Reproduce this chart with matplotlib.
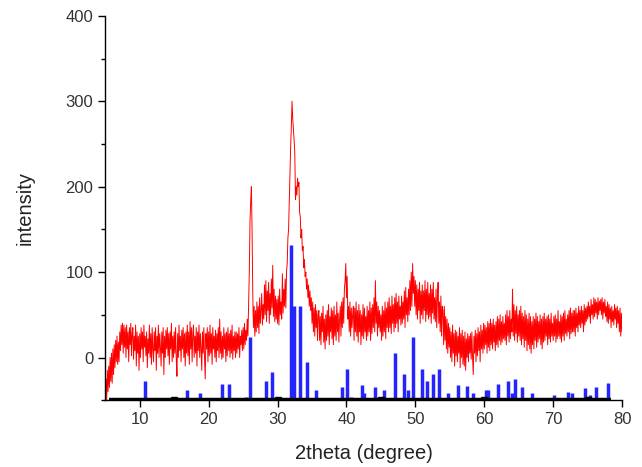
import numpy as np
import matplotlib
matplotlib.use("Agg")
import matplotlib.pyplot as plt

plt.rcParams['font.family'] = ['Liberation Sans', 'DejaVu Sans']

# measured pattern: 2theta from 5.0 to 80.0, step 0.1
theta_start = 5.0
theta_step = 0.1
intensity = [
    -48, -25, -50, -15, -40, -10, -35, 0, -28, 5,
    -30, 10, -20, 15, -12, 20, -5, 25, -8, 18,
    -5, 30, 8, 38, 15, 40, 5, 38, 12, 35,
    0, 38, 10, 30, -5, 35, 15, 40, 2, 28,
    35, -2, 25, 8, 38, -10, 30, 5, 25, -15,
    28, 0, 35, 10, 30, -5, 38, 12, 25, 2,
    30, -12, 22, 5, 38, 0, 28, -8, 35, 10,
    -5, 30, 8, 35, -15, 25, 5, 38, 0, 28,
    12, -10, 30, 5, 35, -20, 25, 0, 32, 10,
    35, 2, 28, -8, 30, 10, 40, -5, 25, 0,
    30, 5, 35, -2, -22, 28, 0, 38, 8, 25,
    -5, 32, 10, 35, 0, 28, -10, 30, 5, 38,
    2, 30, -8, 42, 10, 35, -5, 28, 38, 0,
    25, 5, 35, -10, 30, 8, 38, 0, 28, 10,
    -15, 30, 5, 35, 0, -25, 28, 10, 35, -5,
    30, 2, 38, 5, 28, -8, 35, 10, 25, 0,
    32, -5, 28, 8, 35, 0, 45, 5, 30, -2,
    25, 0, 35, 10, 28, -5, 30, 2, 35, 8,
    28, 0, 32, 5, 38, -2, 25, 8, 30, 0,
    30, 5, 28, 10, 35, 0, 25, 15, 32, 8,
    35, 10, 40, 15, 32, 20, 45, 25, 60, 100,
    160, 182, 200, 150, 75, 35, 60, 25, 55, 30,
    65, 35, 60, 28, 70, 40, 55, 75, 38, 62,
    45, 85, 50, 90, 42, 78, 55, 88, 40, 75,
    50, 92, 58, 108, 48, 80, 42, 72, 45, 68,
    40, 72, 38, 80, 50, 65, 45, 98, 52, 80,
    60, 92, 58, 100, 110, 140, 150, 184, 215, 247,
    270, 300, 280, 268, 255, 240, 185, 200, 190, 210,
    200, 205, 170, 165, 140, 150, 125, 130, 105, 115,
    95, 100, 80, 92, 70, 85, 60, 78, 55, 70,
    40, 65, 30, 58, 25, 62, 35, 55, 20, 50,
    55, 20, 48, 15, 52, 30, 60, 18, 45, 10,
    50, 20, 55, 25, 62, 15, 48, 30, 58, 22,
    55, 15, 60, 25, 50, 20, 65, 30, 52, 18,
    45, 60, 25, 65, 35, 70, 40, 80, 90, 110,
    70, 95, 45, 60, 30, 65, 25, 58, 35, 50,
    60, 20, 58, 30, 65, 25, 55, 18, 62, 30,
    55, 15, 50, 25, 62, 22, 58, 30, 48, 20,
    60, 25, 55, 30, 65, 20, 58, 28, 62, 35,
    70, 30, 90, 40, 65, 25, 60, 35, 55, 30,
    50, 20, 60, 25, 55, 30, 65, 22, 58, 35,
    65, 30, 70, 35, 60, 28, 72, 40, 62, 30,
    70, 35, 75, 40, 65, 30, 72, 45, 60, 38,
    72, 40, 65, 45, 78, 35, 82, 50, 70, 42,
    80, 50, 90, 55, 100, 60, 110, 75, 95, 60,
    90, 50, 85, 45, 80, 55, 88, 40, 78, 50,
    85, 45, 78, 55, 90, 42, 80, 50, 88, 45,
    75, 48, 85, 40, 80, 52, 88, 45, 70, 42,
    80, 35, 70, 88, 40, 65, 30, 72, 25, 60,
    55, 15, 60, 20, 48, 10, 45, 5, 40, 12,
    35, 0, 30, -5, 38, 5, 28, -10, 32, 2,
    30, -5, 25, 5, 35, -12, 28, 0, 32, -8,
    25, -10, 30, -15, 22, 0, 28, -5, 25, 5,
    28, -2, 30, 0, -20, 25, 5, 32, -5, 28,
    2, 35, 8, 30, -5, 38, 10, 32, 5, 40,
    10, 38, 15, 35, 5, 42, 12, 40, 8, 45,
    15, 40, 10, 45, 18, 38, 8, 42, 15, 48,
    12, 45, 20, 50, 15, 42, 18, 48, 22, 40,
    20, 50, 15, 55, 25, 48, 18, 55, 22, 45,
    30, 80, 25, 62, 20, 55, 28, 60, 18, 50,
    25, 55, 20, 60, 15, 52, 22, 48, 12, 55,
    20, 50, 8, 45, 15, 52, 10, 48, 5, 42,
    15, 48, 10, 45, 20, 52, 12, 48, 18, 42,
    22, 50, 15, 45, 10, 48, 18, 52, 20, 45,
    25, 48, 15, 50, 22, 45, 18, 52, 25, 40,
    20, 48, 25, 50, 18, 45, 22, 55, 25, 42,
    22, 50, 18, 48, 25, 52, 20, 55, 28, 45,
    25, 50, 30, 55, 22, 58, 28, 52, 30, 55,
    30, 55, 25, 58, 35, 52, 30, 60, 38, 55,
    35, 60, 40, 55, 30, 62, 38, 58, 42, 60,
    45, 65, 48, 60, 40, 68, 50, 62, 45, 70,
    48, 68, 52, 65, 45, 70, 50, 66, 55, 68,
    50, 70, 45, 65, 52, 68, 48, 60, 42, 65,
    40, 62, 45, 58, 35, 60, 42, 55, 38, 62,
    45, 58, 35, 60, 40, 55, 30, 58, 25, 52,
    30,
]

# reference (standard) peak positions and tops
ref_pos = [10.8, 16.9, 18.8, 22.0, 23.0, 25.4, 26.0, 28.3, 29.2, 31.9,
           32.4, 33.2, 34.3, 35.6, 39.3, 40.1, 40.7, 42.3, 42.5, 44.1,
           44.7, 45.5, 47.1, 48.4, 48.9, 49.7, 50.9, 51.7, 52.5, 53.5,
           54.8, 56.2, 57.5, 58.3, 60.3, 60.5, 62.0, 63.4, 64.0, 64.5,
           65.5, 66.9, 70.1, 72.2, 72.8, 74.6, 75.4, 76.2, 77.9]
ref_top = [-27, -38, -42, -31, -31, -46, 24, -27, -17, 132,
           60, 60, -5, -38, -34, -13, -46, -32, -42, -34,
           -46, -38, 5, -19, -38, 24, -13, -27, -19, -13,
           -42, -32, -33, -42, -38, -38, -31, -27, -42, -25,
           -34, -42, -44, -40, -42, -36, -44, -34, -30]
ref_base = -50

baseline_x = [5.5, 78.4]
marker_x = [15, 30, 45, 60, 75]

xticks = [10, 20, 30, 40, 50, 60, 70, 80]
yticks = [0, 100, 200, 300, 400]

x = theta_start + theta_step * np.arange(len(intensity))

fig = plt.figure(figsize=(6.42, 4.67), dpi=100)
ax = fig.add_axes([0.164, 0.143, 0.805, 0.823])

ax.plot(x, intensity, color='#ff0000', lw=0.7, zorder=2)
ax.vlines(ref_pos, ref_base, ref_top, color='#2424ff', lw=2.5, zorder=3)
ax.plot(baseline_x, [ref_base, ref_base], color='black', lw=3.2, zorder=4,
        solid_capstyle='butt')
ax.plot(marker_x, [ref_base] * len(marker_x), ls='none', marker='v',
        color='black', ms=4, zorder=4)

ax.set_xlim(5, 80)
ax.set_ylim(-50, 400)
ax.set_xticks(xticks)
ax.set_yticks(yticks)
ax.set_yticks([-50, 50, 150, 250, 350], minor=True)
ax.spines['top'].set_visible(False)
ax.spines['right'].set_visible(False)
for s in ('left', 'bottom'):
    ax.spines[s].set_linewidth(1.0)
ax.tick_params(axis='both', which='major', length=5, width=1.0,
               labelsize=12, labelcolor='#333333', direction='out')
ax.tick_params(axis='y', which='minor', length=3, width=1.0)
ax.set_xlabel('2theta (degree)', fontsize=14.5, color='#222222', labelpad=12)
ax.set_ylabel('intensity', fontsize=14.5, color='#222222', labelpad=22)

fig.savefig('out.png', dpi=100)
